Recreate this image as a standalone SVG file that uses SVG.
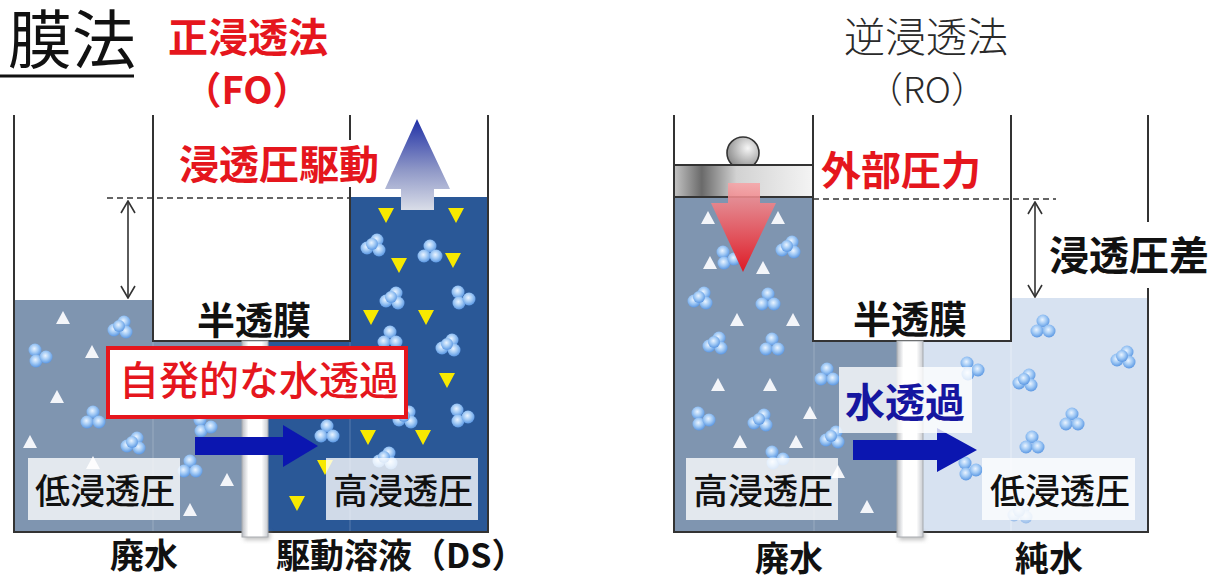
<svg xmlns="http://www.w3.org/2000/svg" xmlns:xlink="http://www.w3.org/1999/xlink" width="1212" height="580" viewBox="0 0 1212 580">
  <defs>
    <style>
      text { font-family: "Noto Sans CJK JP", "Noto Sans CJK SC", "Noto Sans", sans-serif; }
      .wall { fill: none; stroke: #333; stroke-width: 2; }
      .dash { fill: none; stroke: #333; stroke-width: 1.6; stroke-dasharray: 6 4; }
      .dim { fill: none; stroke: #333; stroke-width: 1.6; marker-start: url(#chev); marker-end: url(#chev); }
      .red { fill: #e5161d; font-weight: 700; }
      .blk { fill: #111; font-weight: 700; }
      .lbl { fill: #111; font-weight: 500; font-size: 35px; text-anchor: middle; }
      .lblbox { fill: #fff; fill-opacity: 0.78; }
      .tri { fill: #f3f5f9; }
      .ytri { fill: #f7e900; }
      .waste { fill: #7f95b0; }
      .ds { fill: #2a5897; }
      .pure { fill: #d7e2f1; }
      .ghost { stroke: #fff; stroke-opacity: 0.18; stroke-width: 1.2; fill: none; }
    </style>
    <marker id="chev" viewBox="0 0 14 16" refX="13" refY="8" markerWidth="14" markerHeight="16" markerUnits="userSpaceOnUse" orient="auto-start-reverse">
      <polyline points="1,1 13,8 1,15" fill="none" stroke="#333" stroke-width="1.6"/>
    </marker>
    <radialGradient id="bubG" cx="0.45" cy="0.4" r="0.6">
      <stop offset="0" stop-color="#eaf4ff"/>
      <stop offset="0.55" stop-color="#9cc6f4"/>
      <stop offset="1" stop-color="#5b97e2"/>
    </radialGradient>
    <filter id="soft" x="-20%" y="-20%" width="140%" height="140%">
      <feGaussianBlur stdDeviation="0.7"/>
    </filter>
    <filter id="shadow" x="-50%" y="-50%" width="200%" height="200%">
      <feGaussianBlur stdDeviation="2"/>
    </filter>
    <!-- water-molecule clusters -->
    <g id="bub1" filter="url(#soft)">
      <circle cx="-6" cy="3" r="6.5" fill="url(#bubG)"/>
      <circle cx="4" cy="-5" r="6.5" fill="url(#bubG)"/>
      <circle cx="6" cy="5" r="6.5" fill="url(#bubG)"/>
      <circle cx="-1" cy="-1" r="6" fill="url(#bubG)"/>
    </g>
    <g id="bub2" filter="url(#soft)">
      <circle cx="-5" cy="-5" r="6.5" fill="url(#bubG)"/>
      <circle cx="-4" cy="6" r="6.5" fill="url(#bubG)"/>
      <circle cx="6" cy="2" r="6.5" fill="url(#bubG)"/>
    </g>
    <g id="bub3" filter="url(#soft)">
      <circle cx="0" cy="-6" r="6.5" fill="url(#bubG)"/>
      <circle cx="-6" cy="4" r="6.5" fill="url(#bubG)"/>
      <circle cx="6" cy="4" r="6.5" fill="url(#bubG)"/>
    </g>
    <polygon id="wt" class="tri" points="0,-7 7,6 -7,6"/>
    <polygon id="yt" class="ytri" points="-8,-7 8,-7 0,8"/>
    <linearGradient id="memG" x1="0" x2="1" y1="0" y2="0">
      <stop offset="0" stop-color="#b9bcc2"/>
      <stop offset="0.25" stop-color="#ffffff"/>
      <stop offset="0.75" stop-color="#ffffff"/>
      <stop offset="1" stop-color="#c8cbd0"/>
    </linearGradient>
    <linearGradient id="upG" x1="0" x2="0" y1="0" y2="1">
      <stop offset="0" stop-color="#1f2fa6"/>
      <stop offset="0.55" stop-color="#8d96c6"/>
      <stop offset="1" stop-color="#d9dde8"/>
    </linearGradient>
    <linearGradient id="downG" x1="0" x2="0" y1="0" y2="1">
      <stop offset="0" stop-color="#f7a3a6" stop-opacity="0.85"/>
      <stop offset="1" stop-color="#e3141e" stop-opacity="0.95"/>
    </linearGradient>
    <linearGradient id="pistonG" x1="0" x2="1" y1="0" y2="0">
      <stop offset="0" stop-color="#c4c4c4"/>
      <stop offset="0.2" stop-color="#6a6a6a"/>
      <stop offset="0.45" stop-color="#d2d2d2"/>
      <stop offset="1" stop-color="#f4f4f4"/>
    </linearGradient>
    <radialGradient id="knobG" cx="0.65" cy="0.35" r="0.7">
      <stop offset="0" stop-color="#f6f6f6"/>
      <stop offset="1" stop-color="#8a8a8a"/>
    </radialGradient>
  </defs>

  <rect width="1212" height="580" fill="#fff"/>

  <!-- heading -->
  <g id="heading">
    <text x="136" y="63" font-size="64" text-anchor="end" fill="#111">膜法</text>
    <line x1="0" y1="76" x2="134" y2="76" stroke="#111" stroke-width="3"/>
  </g>

  <!-- ===== forward osmosis tank ===== -->
  <g id="fo-tank">
    <rect class="waste" x="14" y="300" width="228" height="232"/>
    <polygon class="ds" points="350,197 488,197 488,532 268,532 268,341 350,341"/>
    <line class="ghost" x1="153" y1="341" x2="153" y2="531"/>
    <line class="ghost" x1="350" y1="341" x2="350" y2="531"/>
    <rect x="153" y="114" width="197" height="227" fill="#fff"/>
  </g>

  <g id="fo-particles">
    <use href="#wt" x="63" y="318"/>
    <use href="#wt" x="92" y="352"/>
    <use href="#wt" x="57" y="397"/>
    <use href="#wt" x="30" y="442"/>
    <use href="#wt" x="93" y="463"/>
    <use href="#wt" x="227" y="480"/>
    <use href="#wt" x="190" y="510"/>
    <use href="#bub1" x="120" y="327"/>
    <use href="#bub2" x="40" y="355"/>
    <use href="#bub3" x="93" y="418"/>
    <use href="#bub1" x="133" y="443"/>
    <use href="#bub3" x="190" y="467"/>
    <use href="#bub2" x="205" y="425"/>
    <use href="#yt" x="386" y="215"/>
    <use href="#yt" x="456" y="215"/>
    <use href="#yt" x="399" y="265"/>
    <use href="#yt" x="453" y="260"/>
    <use href="#yt" x="371" y="317"/>
    <use href="#yt" x="426" y="317"/>
    <use href="#yt" x="447" y="380"/>
    <use href="#yt" x="368" y="437"/>
    <use href="#yt" x="423" y="437"/>
    <use href="#yt" x="325" y="467"/>
    <use href="#yt" x="297" y="503"/>
    <use href="#bub1" x="373" y="245"/>
    <use href="#bub3" x="430" y="252"/>
    <use href="#bub1" x="392" y="298"/>
    <use href="#bub2" x="463" y="297"/>
    <use href="#bub1" x="448" y="345"/>
    <use href="#bub3" x="390" y="338"/>
    <use href="#bub2" x="462" y="415"/>
    <use href="#bub1" x="405" y="417"/>
    <use href="#bub3" x="327" y="432"/>
    <use href="#bub1" x="385" y="458"/>
  </g>

  <g id="fo-walls">
    <polyline class="wall" points="14,115 14,532 242,532"/>
    <polyline class="wall" points="268,532 488,532 488,115"/>
    <polyline class="wall" points="153,115 153,341 350,341 350,115"/>
  </g>

  <g id="fo-membrane">
    <rect x="244" y="532" width="26" height="8" fill="#999" opacity="0.6" filter="url(#shadow)"/>
    <rect x="242" y="341" width="26" height="196" fill="url(#memG)" stroke="#a8abb0" stroke-width="1"/>
  </g>

  <!-- ===== reverse osmosis tank ===== -->
  <g id="ro-tank">
    <polygon class="waste" points="674,197 813,197 813,341 897,341 897,532 674,532"/>
    <polygon class="pure" points="1011,298 1148,298 1148,532 923,532 923,341 1011,341"/>
    <line class="ghost" x1="814" y1="341" x2="814" y2="531"/>
    <line x1="1011" y1="341" x2="1011" y2="531" stroke="#fff" stroke-opacity="0.35" stroke-width="1.2"/>
  </g>

  <g id="ro-particles">
    <use href="#wt" x="708" y="218"/>
    <use href="#wt" x="778" y="218"/>
    <use href="#wt" x="710" y="263"/>
    <use href="#wt" x="763" y="268"/>
    <use href="#wt" x="737" y="320"/>
    <use href="#wt" x="793" y="320"/>
    <use href="#wt" x="718" y="385"/>
    <use href="#wt" x="770" y="385"/>
    <use href="#wt" x="810" y="413"/>
    <use href="#wt" x="740" y="442"/>
    <use href="#wt" x="796" y="442"/>
    <use href="#wt" x="838" y="472"/>
    <use href="#wt" x="867" y="507"/>
    <use href="#bub1" x="788" y="247"/>
    <use href="#bub2" x="728" y="257"/>
    <use href="#bub1" x="700" y="298"/>
    <use href="#bub3" x="768" y="300"/>
    <use href="#bub1" x="715" y="343"/>
    <use href="#bub3" x="772" y="345"/>
    <use href="#bub2" x="703" y="418"/>
    <use href="#bub1" x="760" y="420"/>
    <use href="#bub3" x="827" y="375"/>
    <use href="#bub1" x="832" y="437"/>
    <use href="#bub2" x="777" y="457"/>
    <use href="#bub3" x="1043" y="327"/>
    <use href="#bub1" x="1123" y="357"/>
    <use href="#bub2" x="972" y="368"/>
    <use href="#bub1" x="1025" y="380"/>
    <use href="#bub3" x="1072" y="420"/>
    <use href="#bub3" x="1032" y="443"/>
    <use href="#bub2" x="970" y="468"/>
    <use href="#bub1" x="1020" y="512" opacity="0.5"/>
  </g>

  <g id="ro-walls">
    <polyline class="wall" points="674,115 674,532 897,532"/>
    <polyline class="wall" points="923,532 1148,532 1148,115"/>
    <polyline class="wall" points="813,115 813,341 1011,341 1011,115"/>
  </g>

  <g id="ro-membrane">
    <rect x="899" y="532" width="26" height="8" fill="#999" opacity="0.6" filter="url(#shadow)"/>
    <rect x="897" y="341" width="26" height="196" fill="url(#memG)" stroke="#a8abb0" stroke-width="1"/>
  </g>

  <g id="ro-piston">
    <circle cx="743" cy="153" r="16" fill="url(#knobG)" stroke="#333" stroke-width="1.6"/>
    <rect x="674" y="165" width="139" height="32" fill="url(#pistonG)" stroke="#333" stroke-width="2"/>
  </g>

  <!-- connectors: level marks, dimension arrows and flow arrows -->
  <g id="connectors">
    <line class="dash" x1="107" y1="198" x2="350" y2="198"/>
    <line class="dim" x1="128" y1="201" x2="128" y2="298"/>
    <line class="dash" x1="813" y1="199" x2="1056" y2="199"/>
    <line class="dim" x1="1035" y1="202" x2="1035" y2="297"/>
    <!-- osmotic drive arrow -->
    <polygon points="417,119 450,189 434,189 434,210 401,210 401,189 385,189" fill="url(#upG)"/>
    <!-- external pressure arrow -->
    <polygon points="728,183 760,183 760,203 776,203 743,272 711,203 728,203" fill="url(#downG)"/>
    <!-- water permeation arrows -->
    <polygon points="195,437 283,437 283,425 318,446 283,467 283,455 195,455" fill="#0b16b0"/>
    <polygon points="853,440 937,440 937,428 977,450 937,472 937,460 853,460" fill="#0b16b0"/>
  </g>

  <!-- ===== labels ===== -->
  <g id="fo-title">
    <text class="red" x="248" y="52" font-size="40" text-anchor="middle">正浸透法</text>
    <text class="red" x="247" y="104" font-size="38" text-anchor="middle">（FO）</text>
  </g>
  <g id="fo-drive">
    <rect x="178" y="140" width="202" height="47" fill="#fff"/>
    <text class="red" x="279" y="179" font-size="40" text-anchor="middle">浸透圧駆動</text>
  </g>
  <g id="fo-membrane-label">
    <text class="blk" x="254" y="334" font-size="38" text-anchor="middle">半透膜</text>
  </g>
  <g id="fo-flow-label">
    <rect x="108" y="348" width="298" height="69" fill="#fff" stroke="#e5161d" stroke-width="4"/>
    <text x="259" y="395" font-size="40" text-anchor="middle" fill="#e5161d" font-weight="500">自発的な水透過</text>
  </g>
  <g id="fo-low">
    <rect class="lblbox" x="28" y="458" width="152" height="62"/>
    <text class="lbl" x="105" y="504">低浸透圧</text>
  </g>
  <g id="fo-high">
    <rect class="lblbox" x="326" y="458" width="152" height="62"/>
    <text class="lbl" x="403" y="504">高浸透圧</text>
  </g>
  <g id="fo-captions">
    <text class="blk" x="144" y="568" font-size="34" text-anchor="middle">廃水</text>
    <text class="blk" x="276" y="568" font-size="34">駆動溶液（DS）</text>
  </g>

  <g id="ro-title">
    <text x="926" y="52" font-size="41" text-anchor="middle" fill="#2a2a2a" font-weight="300">逆浸透法</text>
    <text x="927" y="103" font-size="36" text-anchor="middle" fill="#2a2a2a" font-weight="300">（RO）</text>
  </g>
  <g id="ro-pressure">
    <text class="red" x="901" y="185" font-size="40" text-anchor="middle">外部圧力</text>
  </g>
  <g id="ro-diff">
    <rect x="1045" y="222" width="167" height="66" fill="#fff"/>
    <text class="blk" x="1129" y="270" font-size="40" text-anchor="middle">浸透圧差</text>
  </g>
  <g id="ro-membrane-label">
    <text class="blk" x="910" y="333" font-size="38" text-anchor="middle">半透膜</text>
  </g>
  <g id="ro-flow-label">
    <rect class="lblbox" x="839" y="367" width="133" height="66"/>
    <text x="905" y="417" font-size="40" text-anchor="middle" fill="#1616a0" font-weight="700">水透過</text>
  </g>
  <g id="ro-high">
    <rect class="lblbox" x="686" y="458" width="152" height="62"/>
    <text class="lbl" x="763" y="504">高浸透圧</text>
  </g>
  <g id="ro-low">
    <rect class="lblbox" x="982" y="458" width="153" height="62"/>
    <text class="lbl" x="1060" y="504">低浸透圧</text>
  </g>
  <g id="ro-captions">
    <text class="blk" x="789" y="571" font-size="34" text-anchor="middle">廃水</text>
    <text class="blk" x="1049" y="571" font-size="34" text-anchor="middle">純水</text>
  </g>
</svg>
